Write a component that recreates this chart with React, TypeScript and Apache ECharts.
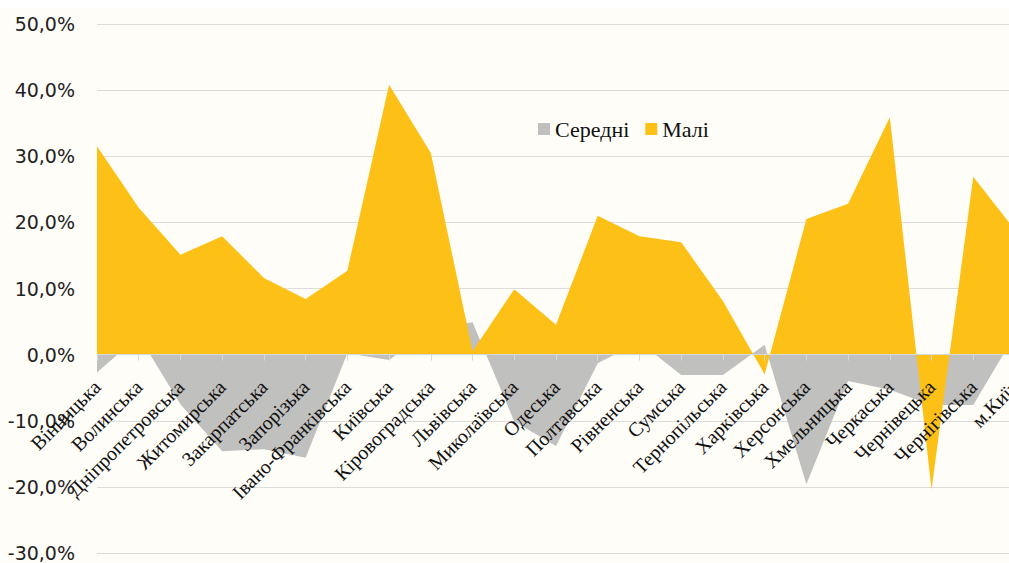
import React, { useEffect, useRef } from "react";
import * as echarts from "echarts";

const categories = [
  "Вінницька", "Волинська", "Дніпропетровська", "Житомирська", "Закарпатська",
  "Запорізька", "Івано-Франківська", "Київська", "Кіровоградська", "Львівська",
  "Миколаївська", "Одеська", "Полтавська", "Рівненська", "Сумська",
  "Тернопільська", "Харківська", "Херсонська", "Хмельницька", "Черкаська",
  "Чернівецька", "Чернігівська", "м.Київ",
];

const seriesNames = ["Середні", "Малі"];

const medium = [
  -2.7, 2.8, -7.5, -14.6, -14.3, -15.6, 0.2, -0.8, 3.9, 4.9,
  -10.1, -13.8, -1.3, 1.9, -3.1, -3.1, 1.5, -19.6, -4.0, -5.3,
  -7.6, -7.6, 3.0,
];

const small = [
  31.5, 22.2, 15.1, 17.9, 11.6, 8.4, 12.7, 40.8, 30.5, 0.5,
  9.9, 4.5, 21.0, 17.9, 17.0, 8.1, -3.0, 20.5, 22.8, 35.9,
  -20.4, 26.9, 18.8,
];

const yMin = -30;
const yMax = 50;
const yStep = 10;

const colors = ["#C0C0BE", "#FDC016"];

const GRID_TOP = 16;
const GRID_BOTTOM = 10;
const CHART_H = 555;

export default function App() {
  const ref = useRef<HTMLDivElement>(null);

  useEffect(() => {
    if (!ref.current) return;
    const chart = echarts.init(ref.current, undefined, { renderer: "svg" });
    const plotH = CHART_H - GRID_TOP - GRID_BOTTOM;
    const zeroFromBottom = (plotH * (0 - yMin)) / (yMax - yMin);
    chart.setOption({
      animation: false,
      backgroundColor: "#FEFDF8",
      legend: {
        left: 533,
        top: 105,
        itemWidth: 12,
        itemHeight: 12,
        itemGap: 16,
        icon: "rect",
        textStyle: {
          fontFamily: "Liberation Serif",
          fontSize: 22,
          color: "#111",
        },
        data: seriesNames,
      },
      grid: {
        left: 97,
        right: 25,
        top: GRID_TOP,
        bottom: GRID_BOTTOM,
        containLabel: false,
        outerBoundsMode: "none",
      },
      xAxis: {
        type: "category",
        data: categories,
        boundaryGap: false,
        z: 5,
        offset: -zeroFromBottom,
        axisLine: { onZero: false, lineStyle: { color: "#D9D9D9", width: 1 } },
        axisTick: { show: true, length: 6, lineStyle: { color: "#D9D9D9" } },
        axisLabel: {
          interval: 0,
          rotate: 45,
          margin: 29,
          fontFamily: "Liberation Serif",
          fontSize: 20,
          color: "#111",
        },
        splitLine: { show: false },
      },
      yAxis: {
        type: "value",
        min: yMin,
        max: yMax,
        interval: yStep,
        axisLine: { show: false },
        axisTick: { show: false },
        axisLabel: {
          margin: 22,
          fontFamily: "DejaVu Sans",
          fontSize: 19,
          color: "#222",
          formatter: (v: number) => v.toFixed(1).replace(".", ",") + "%",
        },
        splitLine: { lineStyle: { color: "#DCDCDA", width: 1 } },
      },
      series: [
        {
          name: seriesNames[0],
          type: "line",
          data: medium,
          symbol: "none",
          lineStyle: { width: 0 },
          areaStyle: { color: colors[0], opacity: 1, origin: 0 },
          itemStyle: { color: colors[0] },
          z: 2,
        },
        {
          name: seriesNames[1],
          type: "line",
          data: small,
          symbol: "none",
          lineStyle: { width: 0 },
          areaStyle: { color: colors[1], opacity: 1, origin: 0 },
          itemStyle: { color: colors[1] },
          z: 3,
        },
      ],
    });
    return () => chart.dispose();
  }, []);

  return (
    <div
      style={{
        position: "fixed",
        left: 0,
        top: 0,
        width: 1009,
        height: 563,
        overflow: "hidden",
        background: "#FFFFFF",
      }}
    >
      <div
        ref={ref}
        style={{ position: "absolute", left: 0, top: 8, width: 1040, height: CHART_H }}
      />
    </div>
  );
}
